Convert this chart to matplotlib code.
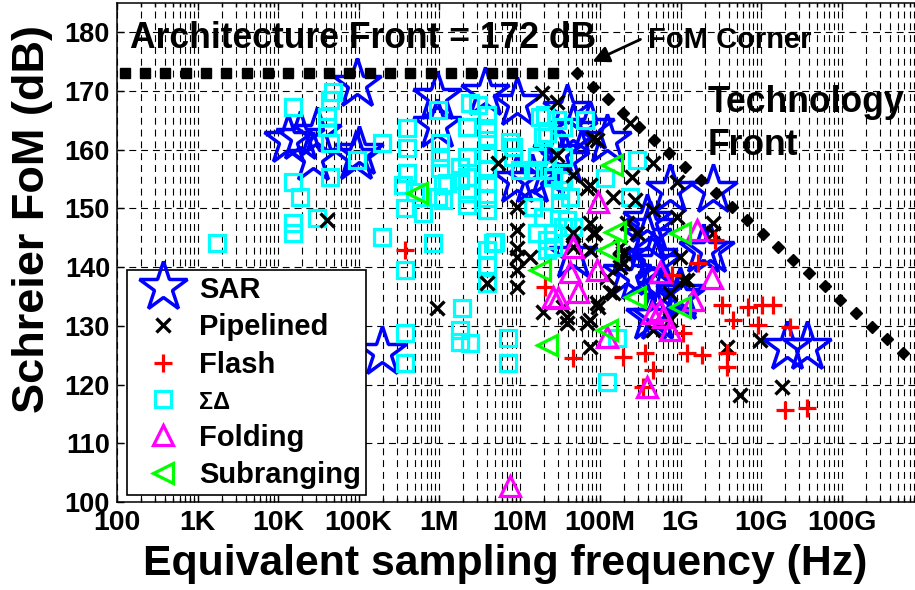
import matplotlib
matplotlib.use('Agg')
import matplotlib.pyplot as plt
import numpy as np
from matplotlib.ticker import LogLocator, NullFormatter, FixedLocator

plt.rcParams['font.family'] = ['Liberation Sans', 'DejaVu Sans']
plt.rcParams['font.weight'] = 'bold'
plt.rcParams['lines.scale_dashes'] = False

# ---------------- data (frequency in Hz, Schreier FoM in dB) ----------------
sar_f = [1.33e4, 1.87e4, 3.05e4, 2.72e4, 9.4e4, 1.0e5, 9.6e4, 1.96e5, 9.4e5, 9.4e5,
         3.72e6, 9.3e6, 9.3e6, 1.43e7, 2.92e7, 3.89e7, 4.62e7, 7.5e7, 1.22e8, 3.67e7,
         4.62e7, 2.16e8, 3.84e8, 4.55e8, 7.4e8, 2.54e9, 4.18e8, 1.9e9, 9.9e8, 5.1e8,
         3.84e8, 2.32e9, 5.1e8, 2.88e8, 6.07e8, 4.18e8, 9.9e8, 2.1e10, 3.72e10, 2.26e7]
sar_fom = [161.7, 162.2, 162.9, 158.6, 158.8, 159.6, 171.2, 125.5, 169.0, 164.2,
           169.7, 168.0, 154.8, 154.8, 159.4, 166.8, 163.4, 163.9, 161.7, 158.3,
           142.1, 139.0, 148.0, 141.7, 153.1, 153.1, 146.8, 142.9, 135.6, 131.5,
           145.1, 142.9, 140.7, 138.3, 136.1, 131.5, 134.9, 126.4, 126.4, 156.2]

pipe_f = [4.07e4, 1.9e7, 2.92e7, 8.2e7, 2.92e7, 4.62e7, 7.5e7, 1.45e8, 2.36e8, 4.55e8,
          2.5e8, 2.72e8, 9.06e8, 9.3e6, 4.55e8, 9.06e8, 2.54e9, 9.2e7, 6.9e7, 2.16e8,
          7.5e7, 8.2e7, 2.88e8, 4.62e7, 7.5e7, 1.77e8, 1.77e8, 1.77e8, 1.22e8, 1.07e9,
          1.33e8, 9.2e7, 3.47e7, 3.89e7, 7.4e8, 7.4e8, 7.5e7, 9.3e6, 9.3e6, 9.3e6,
          9.3e6, 3.94e6, 9.3e6, 9.4e5, 1.35e7, 1.96e7, 3.89e7, 6.9e7, 9.4e7, 1.45e8,
          7.5e7, 4.55e8, 1.2e9, 9.9e8, 2.54e9, 3.78e9, 9.7e9, 5.5e9, 1.82e10, 4.62e7,
          8.7e7, 1.93e8, 1.93e8, 5.4e6]
pipe_fom = [148.0, 169.7, 168.1, 162.0, 159.1, 155.7, 154.0, 151.9, 164.6, 157.7,
            155.4, 151.4, 154.5, 150.2, 149.7, 148.5, 147.5, 161.7, 153.5, 147.5,
            147.5, 145.8, 145.8, 143.4, 142.9, 143.4, 141.2, 140.0, 138.3, 137.8,
            135.8, 133.9, 133.2, 131.5, 135.6, 131.0, 131.0, 146.3, 143.3, 141.7,
            139.5, 137.3, 136.6, 133.0, 141.7, 132.4, 130.5, 130.5, 133.2, 135.6,
            126.4, 129.3, 137.8, 141.7, 145.8, 126.4, 127.6, 118.2, 119.6, 145.8,
            145.8, 142.4, 140.7, 157.7]

flash_f = [3.78e5, 2.07e7, 4.62e7, 1.93e8, 3.62e8, 4.55e8, 3.42e8, 7.8e8, 1.65e9, 2.69e9,
           1.2e9, 1.85e9, 1.07e9, 3.78e9, 3.78e9, 3.28e9, 4.49e9, 6.9e9, 1.03e10, 1.41e10,
           9.2e9, 2.29e10, 1.99e10, 3.72e10]
flash_fom = [142.9, 136.6, 124.5, 124.7, 125.4, 122.5, 119.6, 138.7, 140.7, 144.6,
             125.4, 125.0, 128.8, 125.4, 123.0, 133.6, 131.0, 133.2, 133.6, 133.6,
             130.1, 129.8, 115.7, 116.0]

sd_f = [4.82e4, 4.43e4, 1.53e4, 4.07e4, 4.07e4, 4.43e4, 1.96e5, 4.0e5, 4.0e5, 4.0e5,
        5.04e5, 3.78e5, 6.3e5, 9.7e5, 9.7e5, 1.03e6, 1.03e6, 1.03e6, 1.12e6, 1.12e6,
        2.23e6, 2.43e6, 3.05e6, 3.94e6, 3.94e6, 3.94e6, 3.94e6, 3.94e6, 3.94e6, 3.94e6,
        3.94e6, 2.23e6, 2.23e6, 2.23e6, 2.23e6, 1.26e6, 7.6e6, 8.3e6, 1.8e7, 1.96e7,
        1.65e7, 1.47e7, 1.53e4, 1.87e4, 1.53e4, 1.53e4, 3.05e4, 4.43e4, 1.75e3, 1.96e5,
        8.4e5, 3.78e5, 1.93e6, 1.82e6, 1.82e6, 2.43e6, 3.78e5, 3.78e5, 3.94e6, 3.94e6,
        3.94e6, 4.97e6, 7.2e6, 7.2e6, 3.57e5, 1.82e6, 1.82e6, 4.69e6, 1.01e7, 8.3e6,
        2.07e7, 1.47e7, 1.96e7, 2.2e7, 2.2e7, 2.92e7, 3.47e7, 3.47e7, 3.47e7, 3.18e7,
        3.47e7, 1.65e7, 6.5e7, 2.2e7, 2.61e7, 3.18e7, 4.24e7, 3.89e7, 2.61e7, 2.61e7,
        1.15e8, 2.88e8, 2.36e8, 4.62e7, 2.07e7, 1.22e8, 1.63e8, 9.6e4]
sd_fom = [169.8, 168.5, 167.3, 165.6, 163.9, 161.1, 161.1, 163.7, 160.3, 156.0,
          152.8, 150.1, 149.2, 151.9, 166.8, 161.1, 158.8, 156.9, 154.0, 151.4,
          163.9, 168.0, 167.6, 165.9, 163.7, 161.7, 159.4, 156.5, 154.3, 151.8,
          149.7, 158.8, 155.4, 152.6, 150.6, 154.3, 161.3, 158.8, 165.6, 162.2,
          158.8, 156.5, 154.5, 151.9, 147.5, 145.8, 148.4, 155.4, 144.1, 145.1,
          144.1, 139.5, 133.0, 129.3, 127.3, 127.1, 128.8, 123.7, 142.9, 140.4,
          137.3, 144.3, 127.9, 123.7, 154.0, 157.1, 154.8, 144.1, 156.5, 160.5,
          156.5, 150.2, 148.5, 144.6, 142.9, 165.1, 163.9, 158.8, 154.8, 150.9,
          146.8, 145.8, 165.1, 162.9, 155.4, 153.1, 151.9, 148.0, 145.8, 143.4,
          155.2, 158.3, 151.9, 146.8, 165.9, 120.4, 127.9, 158.3]

fold_f = [7.6e6, 3.84e8, 9.2e7, 4.24e7, 5.33e7, 3.0e7, 1.22e8, 7.4e8, 5.56e8, 5.56e8,
          2.46e9, 1.43e9, 1.6e9, 9.4e7, 4.62e7, 2.61e7, 4.43e8, 6.07e8]
fold_fom = [102.7, 119.6, 139.5, 139.2, 135.8, 134.7, 128.1, 129.3, 132.7, 139.2,
            138.2, 134.4, 146.3, 151.1, 143.4, 134.9, 132.2, 131.5]

sub_f = [5.33e5, 1.8e7, 2.2e7, 1.22e8, 2.72e8, 9.9e8, 9.9e8, 1.26e8, 1.41e8, 1.53e8]
sub_fom = [152.6, 139.5, 126.7, 129.3, 134.9, 133.2, 145.8, 142.9, 157.4, 146.0]

arch_f = [126, 224, 398, 724, 1288, 2291, 4169, 7413, 1.32e4, 2.40e4, 4.27e4, 7.59e4,
          1.38e5, 2.45e5, 4.37e5, 7.94e5, 1.41e6, 2.51e6, 4.57e6, 8.13e6, 1.45e7, 2.63e7]
arch_fom = [173.1] * len(arch_f)

tech_f = [5.18e7, 8.18e7, 1.26e8, 1.93e8, 3.05e8, 4.69e8, 7.19e8, 1.14e9, 1.80e9, 2.76e9,
          4.37e9, 6.70e9, 1.06e10, 1.63e10, 2.50e10, 3.94e10, 6.24e10, 9.57e10, 1.51e11,
          2.39e11, 3.67e11, 5.81e11]
tech_fom = [173.1, 170.7, 168.6, 166.3, 163.9, 161.7, 159.4, 157.1, 154.8, 152.6,
            150.2, 148.0, 145.6, 143.4, 141.2, 139.0, 136.8, 134.4, 132.2, 129.8,
            127.8, 125.4]

xtick_vals = [1e2, 1e3, 1e4, 1e5, 1e6, 1e7, 1e8, 1e9, 1e10, 1e11, 1e12]
xtick_labels = ['100', '1K', '10K', '100K', '1M', '10M', '100M', '1G', '10G', '100G', '']
ytick_vals = [100, 110, 120, 130, 140, 150, 160, 170, 180]

# ---------------- figure ----------------
fig = plt.figure(figsize=(9.15, 5.9), dpi=100)
ax = fig.add_axes([117 / 915, 88 / 590, 805 / 915, 499 / 590])
ax.set_xscale('log')
ax.set_xlim(1e2, 1e12)
ax.set_ylim(100, 185)

ax.xaxis.set_major_locator(FixedLocator(xtick_vals))
ax.set_xticklabels(xtick_labels)
ax.xaxis.set_minor_locator(LogLocator(base=10, subs=np.arange(2, 10), numticks=200))
ax.xaxis.set_minor_formatter(NullFormatter())
ax.set_yticks(ytick_vals)
ax.set_yticklabels([str(v) for v in ytick_vals])

dash = (0, (5, 3.5))
ax.grid(True, which='major', axis='both', color='k', lw=0.8, ls=dash)
ax.grid(True, which='minor', axis='x', color='k', lw=0.8, ls=dash)
ax.set_axisbelow(True)

ax.tick_params(which='both', direction='in', top=True, right=True, width=1)
ax.tick_params(which='major', length=5)
ax.tick_params(which='minor', length=3)
ax.tick_params(axis='x', labelsize=20.5, pad=6)
ax.tick_params(axis='y', labelsize=19.5, pad=5)
for lab in ax.get_xticklabels() + ax.get_yticklabels():
    lab.set_fontweight('bold')
for sp in ax.spines.values():
    sp.set_linewidth(1.1)

mew = 2.3
h_sar, = ax.plot(sar_f, sar_fom, ls='none', marker='*', ms=37, mfc='none',
                 mec='#0000FF', mew=2.5, label='SAR', zorder=3)
h_sd, = ax.plot(sd_f, sd_fom, ls='none', marker='s', ms=12, mfc='none',
                mec='#00FFFF', mew=mew, label='\u03a3\u0394', zorder=3)
h_pipe, = ax.plot(pipe_f, pipe_fom, ls='none', marker='x', ms=10, mfc='none',
                  mec='k', mew=2.4, label='Pipelined', zorder=4)
h_flash, = ax.plot(flash_f, flash_fom, ls='none', marker='+', ms=13, mfc='none',
                   mec='#FF0000', mew=mew, label='Flash', zorder=4)
h_fold, = ax.plot(fold_f, fold_fom, ls='none', marker='^', ms=15, mfc='none',
                  mec='#FF00FF', mew=mew, label='Folding', zorder=4)
h_sub, = ax.plot(sub_f, sub_fom, ls='none', marker='<', ms=14, mfc='none',
                 mec='#00FF00', mew=mew, label='Subranging', zorder=4)

ax.plot(arch_f, arch_fom, ls='none', marker='s', ms=6.5, color='k', zorder=5)
ax.plot(tech_f, tech_fom, ls='none', marker='D', ms=6, color='k', zorder=5)

ax.text(1.45e2, 177.3, 'Architecture Front = 172 dB', fontsize=25.6,
        fontweight='bold', ha='left', va='baseline', zorder=6)
ax.text(3.95e8, 177.3, 'FoM Corner', fontsize=21, fontweight='bold',
        ha='left', va='baseline', zorder=6)
ax.annotate('', xy=(7.5e7, 174.8), xytext=(3.42e8, 179.0),
            arrowprops=dict(arrowstyle='-|>', color='k', lw=2, mutation_scale=25),
            zorder=6)
ax.text(2.2e9, 166.4, 'Technology', fontsize=25.6, fontweight='bold',
        ha='left', va='baseline', zorder=6)
ax.text(2.2e9, 159.1, 'Front', fontsize=25.6, fontweight='bold',
        ha='left', va='baseline', zorder=6)

leg = ax.legend(handles=[h_sar, h_pipe, h_flash, h_sd, h_fold, h_sub],
                loc='lower left', bbox_to_anchor=(10 / 805, 7 / 499),
                borderaxespad=0, prop={'size': 21, 'weight': 'bold'},
                frameon=True, fancybox=False, edgecolor='k', framealpha=1,
                borderpad=0.2, handlelength=2.1, handletextpad=0.16,
                labelspacing=0.33, numpoints=1)
leg.get_frame().set_linewidth(1.2)
leg.set_zorder(10)
leg.get_texts()[3].set_fontsize(17)

fig.text(505 / 915, (590 - 575) / 590, 'Equivalent sampling frequency (Hz)',
         fontsize=30.8, fontweight='bold', ha='center', va='baseline')
fig.text(33 / 915, (590 - 219) / 590, 'Schreier FoM (dB)', fontsize=32.5,
         fontweight='bold', ha='center', va='center', rotation=90)

fig.savefig('out.png', dpi=100)
